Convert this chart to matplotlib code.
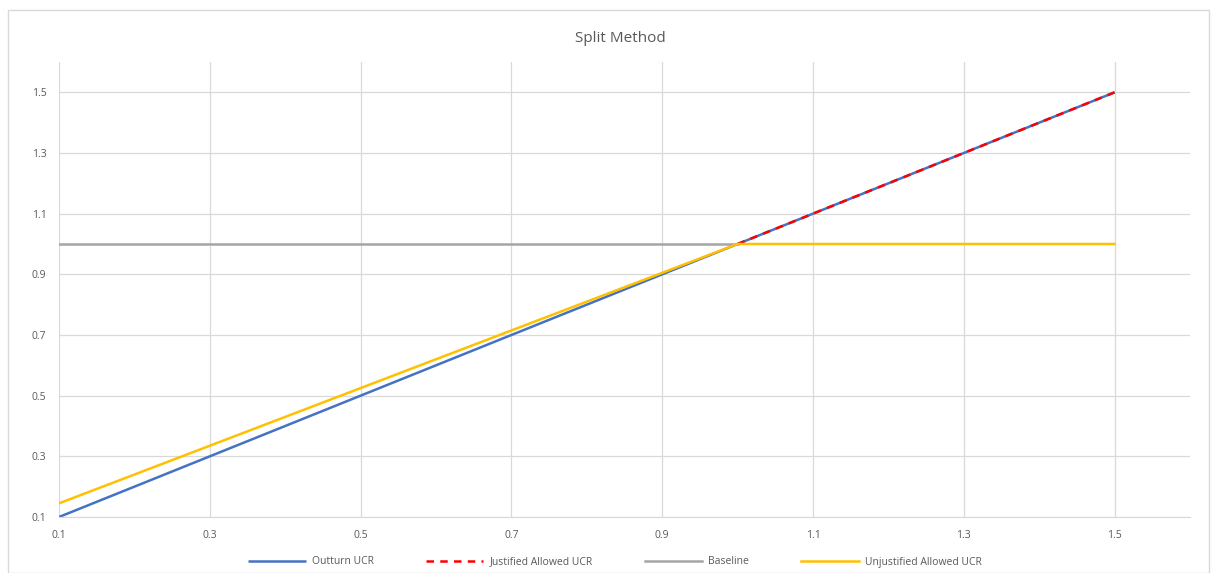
import matplotlib
matplotlib.use("Agg")
import matplotlib.pyplot as plt
from matplotlib.patches import Rectangle

x_outturn = [0.1, 0.2, 0.3, 0.4, 0.5, 0.6, 0.7, 0.8, 0.9, 1.0, 1.1, 1.2, 1.3, 1.4, 1.5]
y_outturn = [0.1, 0.2, 0.3, 0.4, 0.5, 0.6, 0.7, 0.8, 0.9, 1.0, 1.1, 1.2, 1.3, 1.4, 1.5]
x_justified = [1.0, 1.1, 1.2, 1.3, 1.4, 1.5]
y_justified = [1.0, 1.1, 1.2, 1.3, 1.4, 1.5]
x_baseline = [0.1, 1.0]
y_baseline = [1.0, 1.0]
x_unjust = [0.1, 0.2, 0.3, 0.4, 0.5, 0.6, 0.7, 0.8, 0.9, 1.0, 1.1, 1.2, 1.3, 1.4, 1.5]
y_unjust = [0.145, 0.24, 0.335, 0.43, 0.525, 0.62, 0.715, 0.81, 0.905, 1.0, 1.0, 1.0, 1.0, 1.0, 1.0]
ticks = [0.1, 0.3, 0.5, 0.7, 0.9, 1.1, 1.3, 1.5]
tick_labels = ["0.1", "0.3", "0.5", "0.7", "0.9", "1.1", "1.3", "1.5"]

plt.rcParams['font.family'] = ['Open Sans', 'DejaVu Sans']
txt = '#595959'

fig = plt.figure(figsize=(12.19, 5.73), dpi=100)
fig.patches.append(Rectangle((8/1219, 0), (1209-8)/1219, 1-10/573, transform=fig.transFigure,
                             fill=False, edgecolor='#D9D9D9', linewidth=1))
ax = fig.add_axes([59/1219, 1-517/573, (1190-59)/1219, (517-62)/573])
ax.set_xlim(0.1, 1.6)
ax.set_ylim(0.1, 1.6)
ax.set_xticks(ticks)
ax.set_xticklabels(tick_labels)
ax.set_yticks(ticks)
ax.set_yticklabels(tick_labels)
ax.grid(True, color='#D9D9D9', linewidth=0.9)
ax.set_axisbelow(True)
for s in ['top', 'right', 'left']:
    ax.spines[s].set_visible(False)
ax.spines['bottom'].set_color('#D9D9D9')
ax.tick_params(length=0, labelsize=7.5, colors=txt, pad=9)

ax.plot(x_outturn, y_outturn, color='#4472C4', linewidth=1.8, label='Outturn UCR', solid_capstyle='butt')
ax.plot(x_justified, y_justified, color='#FF0000', linewidth=1.8, linestyle=(0, (3, 2.5)), label='Justified Allowed UCR')
ax.plot(x_baseline, y_baseline, color='#A5A5A5', linewidth=1.8, label='Baseline')
ax.plot(x_unjust, y_unjust, color='#FFC000', linewidth=1.8, label='Unjustified Allowed UCR')

fig.text(620/1219, 1-38/573, 'Split Method', ha='center', va='center', fontsize=11, color=txt)
leg = fig.legend(loc='center', bbox_to_anchor=(615/1219, 1-562/573), ncol=4, frameon=False,
                 fontsize=7.5, handlelength=5.5, columnspacing=5.0, handletextpad=0.6)
for t in leg.get_texts():
    t.set_color(txt)

fig.savefig('out.png', dpi=100)
